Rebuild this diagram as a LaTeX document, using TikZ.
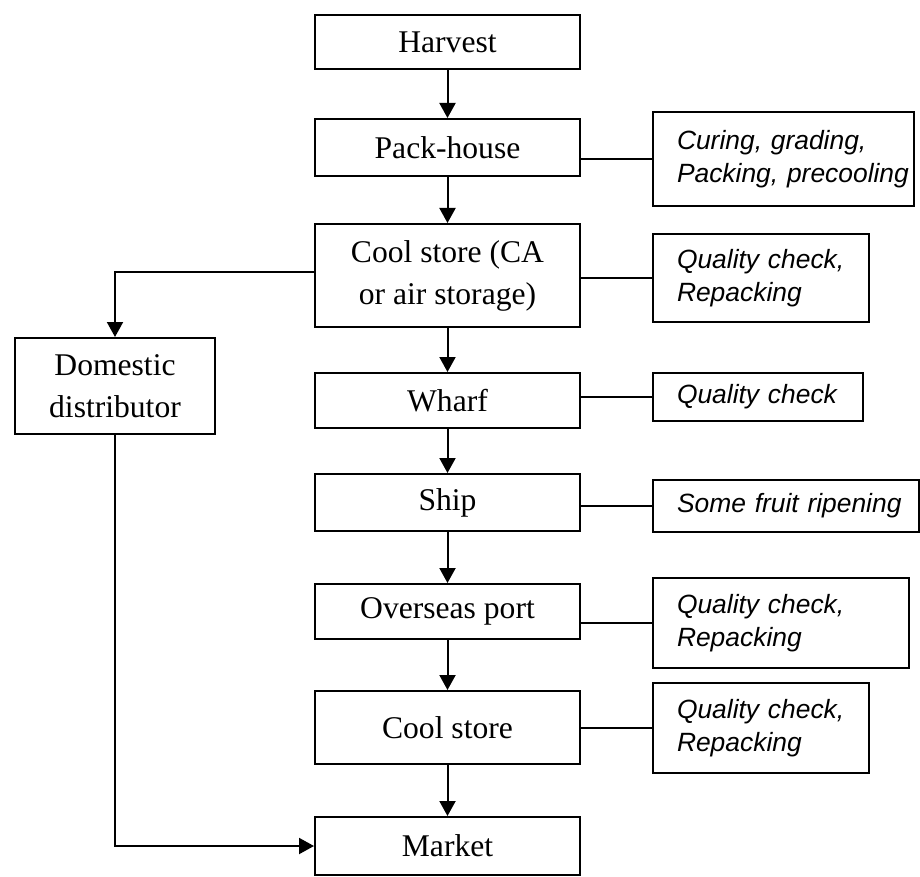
\documentclass[tikz,border=0pt]{standalone}
\usepackage{fontspec}
\setmainfont{Liberation Serif}
\setsansfont{Liberation Sans}
\usetikzlibrary{arrows.meta}

\begin{document}
\begin{tikzpicture}[x=0.5pt,y=-0.5pt,
   stage/.style={draw,line width=1pt,minimum width=132.5pt,inner sep=0pt,align=center,
      font=\fontsize{15.8}{21}\selectfont},
   note/.style={draw,line width=1pt,anchor=west,inner xsep=0pt,inner ysep=0pt,align=left,
      text width=#1,execute at begin node={\leftskip=12pt\relax},
      font=\sffamily\itshape\fontsize{13.2}{16.5}\selectfont},
   flow/.style={-{Triangle[length=7.5pt,width=8pt]},line width=1pt}]
   \useasboundingbox (0,0) rectangle (920,877);
   \node[stage,minimum height=27pt] (harvest) at (447.5,42) {Harvest};
   \node[stage,minimum height=28.5pt] (pack) at (447.5,147.5) {Pack-house};
   \node[stage,minimum height=51.5pt] (cool) at (447.5,275.5) {Cool store (CA\\or air storage)};
   \node[stage,minimum height=27.5pt] (wharf) at (447.5,400.5) {Wharf};
   \node[stage,minimum height=28.5pt] (ship) at (447.5,502.5) {Ship};
   \node[stage,minimum height=27.5pt] (port) at (447.5,611.5) {Overseas port};
   \node[stage,minimum height=36.5pt] (store) at (447.5,727.5) {Cool store};
   \node[stage,minimum height=29pt] (market) at (447.5,846) {Market};
   \node[stage,minimum width=100pt,minimum height=48pt] (dom) at (115,386) {Domestic\\distributor};
   \node[note=130.5pt,minimum height=47pt] (curing) at (652,159) {Curing, grading,\\Packing, precooling};
   \node[note=108pt,minimum height=44pt] (qcA) at (652,278) {Quality check,\\Repacking};
   \node[note=105pt,minimum height=24pt] (qcB) at (652,397) {Quality check};
   \node[note=133pt,minimum height=26pt] (ripen) at (652,506) {Some fruit ripening};
   \node[note=128pt,minimum height=45pt] (qcC) at (652,623) {Quality check,\\Repacking};
   \node[note=108pt,minimum height=45pt] (qcD) at (652,728) {Quality check,\\Repacking};
   \foreach \a/\b in {harvest/pack,pack/cool,cool/wharf,wharf/ship,ship/port,port/store,store/market}{
     \draw[flow] (\a) -- (\b);
   }
   \foreach \a/\b in {pack/curing,cool/qcA,wharf/qcB,ship/ripen,port/qcC,store/qcD}{
     \draw[line width=1pt] (\a.east |- \b.west) -- (\b.west);
   }
   \draw[flow] (cool.west) ++(0,-3.5) -| (dom.north);
   \draw[flow] (dom.south) |- (market.west);
  \end{tikzpicture}
\end{document}
